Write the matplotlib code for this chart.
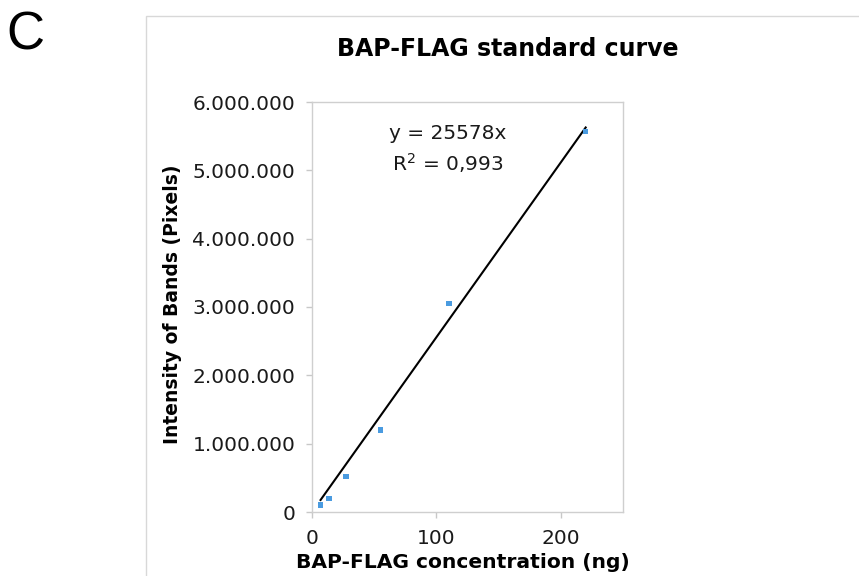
import matplotlib
matplotlib.use("Agg")
import matplotlib.pyplot as plt
from matplotlib.patches import Rectangle
from matplotlib.ticker import FuncFormatter
import numpy as np

# BAP-FLAG standard series (ng vs. band intensity in pixels)
concentration_ng = [6.875, 13.75, 27.5, 55, 110, 220]
band_intensity = [100000, 200000, 520000, 1200000, 3050000, 5570000]
slope = 25578
r_squared = "0,993"

x_ticks = [0, 100, 200]
y_ticks = [0, 1000000, 2000000, 3000000, 4000000, 5000000, 6000000]

W, H = 859, 576
fig = plt.figure(figsize=(W / 100, H / 100), dpi=100)
fig.patch.set_facecolor("white")

# outer chart frame
fig.patches.append(Rectangle((146 / W, -0.1), 1.0, 1 - 16 / H + 0.1,
                             transform=fig.transFigure, fill=False,
                             edgecolor="#d8d8d8", lw=1.0))

ax = fig.add_axes([312 / W, 1 - 512 / H, (623 - 312) / W, (512 - 102) / H])
ax.set_xlim(0, 250)
ax.set_ylim(0, 6000000)

ax.scatter(concentration_ng, band_intensity, s=16, marker="s",
           color="#4a9be0", edgecolors="none", zorder=3)

fit_x = np.array([concentration_ng[0], concentration_ng[-1]])
ax.plot(fit_x, slope * fit_x, color="black", lw=1.5, zorder=2)

ax.set_xticks(x_ticks)
ax.set_yticks(y_ticks)


def dotted_thousands(v, pos):
    return f"{int(round(v)):,}".replace(",", ".")


ax.yaxis.set_major_formatter(FuncFormatter(dotted_thousands))
ax.tick_params(axis="both", labelsize=14.5, colors="#c8c8c8",
               labelcolor="#1a1a1a", length=4, width=1, direction="out")
ax.tick_params(axis="y", pad=8)
ax.tick_params(axis="x", pad=8)
for s in ax.spines.values():
    s.set_color("#cfcfcf")
    s.set_linewidth(1.0)

ax.text(0.436, 0.924, f"y = {slope}x", transform=ax.transAxes,
        ha="center", va="center", fontsize=14.5, color="#1a1a1a")
ax.text(0.436, 0.851, "R$^{2}$ = " + r_squared, transform=ax.transAxes,
        ha="center", va="center", fontsize=14.5, color="#1a1a1a")

fig.text(508 / W, 1 - 49 / H, "BAP-FLAG standard curve", ha="center",
         va="center", fontsize=17, fontweight="bold")
fig.text(463 / W, 1 - 562 / H, "BAP-FLAG concentration (ng)", ha="center",
         va="center", fontsize=14.6, fontweight="bold")
fig.text(173 / W, 1 - 304 / H, "Intensity of Bands (Pixels)", ha="center",
         va="center", rotation=90, fontsize=13.5, fontweight="bold")

fig.text(25 / W, 1 - 49 / H, "C", ha="center", va="baseline", fontsize=38,
         family="Liberation Sans")

fig.savefig("out.png", dpi=100)
